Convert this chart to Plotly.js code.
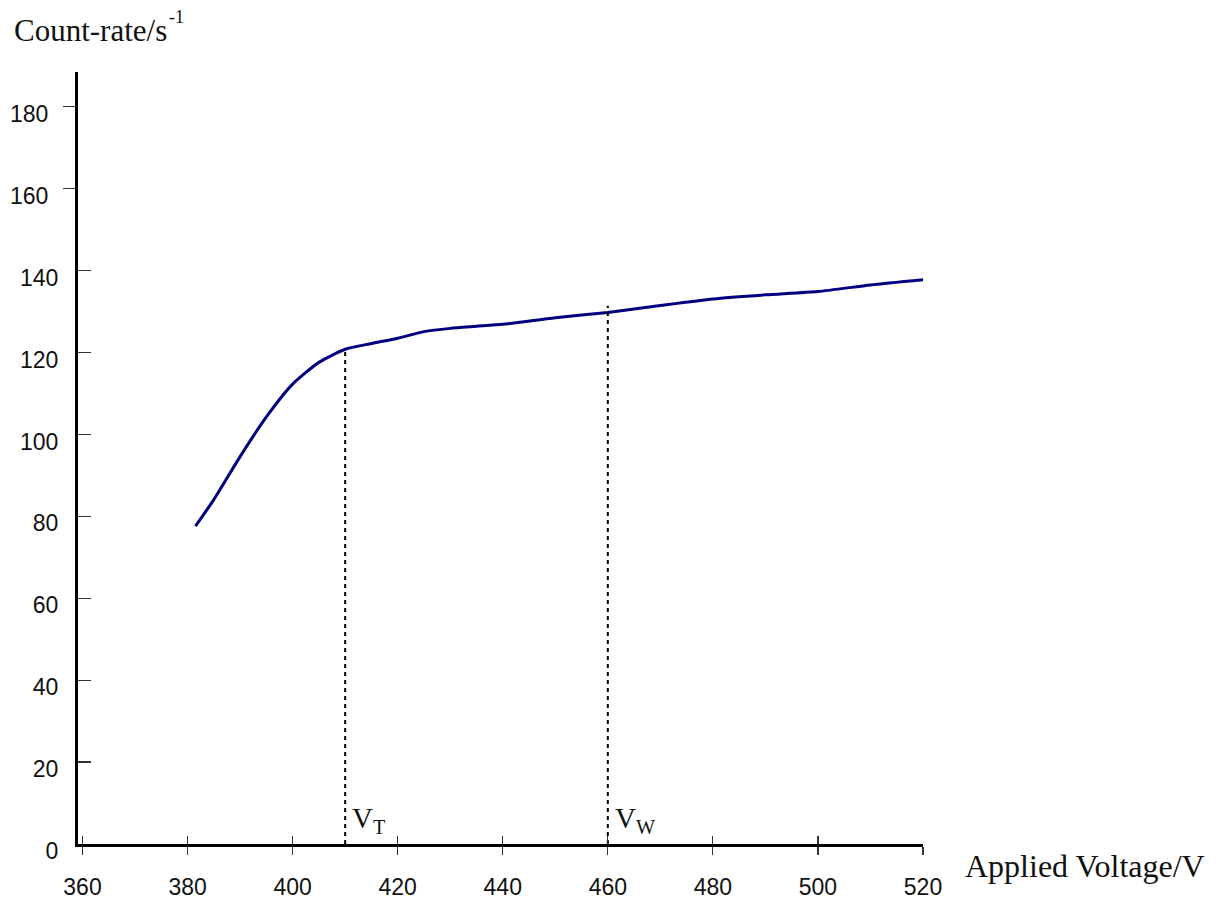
<!DOCTYPE html>
<html>
<head>
<meta charset="utf-8">
<script src="https://cdn.plot.ly/plotly-3.0.1.min.js"></script>
<style>html,body{margin:0;padding:0;background:#fff;}#chart{width:1216px;height:908px;}</style>
</head>
<body>
<div id="chart"></div>
<script>
// Data
const voltage   = [381.5, 385, 390, 395, 400, 405, 410, 415, 420, 425, 430, 435, 440, 450, 460, 470, 480, 490, 500, 510, 521];
const countRate = [77.6, 84.1, 94.6, 104.3, 112.3, 117.6, 120.8, 122.2, 123.5, 125.1, 125.9, 126.4, 126.9, 128.5, 129.8, 131.5, 133.1, 134.1, 134.9, 136.5, 137.9];

const markerVoltages = [410, 460];
const markerTops     = [120.8, 131.4];
const markerSubs     = ['T', 'W'];

const xTickVals      = [360, 380, 400, 420, 440, 460, 480, 500, 520];
const yTickValsLower = [0, 20, 40, 60, 80, 100, 120, 140];
const yTickValsUpper = [160, 180];

const xRange = [359.14, 520];
const yRange = [0, 188.5];

const traces = [{
  x: voltage, y: countRate, type: 'scatter', mode: 'lines',
  line: {color: '#000080', width: 3, shape: 'spline', smoothing: 0.6},
  hoverinfo: 'skip', showlegend: false
}];
markerVoltages.forEach((v, i) => {
  traces.push({
    x: [v, v], y: [0, markerTops[i]], type: 'scatter', mode: 'lines',
    line: {color: '#000', width: 2, dash: '4px,4px'},
    hoverinfo: 'skip', showlegend: false
  });
});

const tickFont = {family: 'Liberation Sans, Arial, sans-serif', size: 23, color: '#111'};
const serif = 'Liberation Serif, Times New Roman, serif';

const annotations = [
  {text: 'Count-rate/s', xref: 'paper', yref: 'paper', x: -0.0775, y: 1.0535, xanchor: 'left', yanchor: 'middle',
   showarrow: false, borderpad: 0, font: {family: serif, size: 31, color: '#111'}},
  {text: '-1', xref: 'paper', yref: 'paper', x: 0.1065, y: 1.0715, xanchor: 'left', yanchor: 'middle',
   showarrow: false, borderpad: 0, font: {family: serif, size: 18, color: '#111'}},
  {text: 'Applied Voltage/V', xref: 'paper', yref: 'paper', x: 1.0485, y: -0.029, xanchor: 'left', yanchor: 'middle',
   showarrow: false, borderpad: 0, font: {family: serif, size: 32, color: '#111'}}
];
markerVoltages.forEach((v, i) => {
  annotations.push({
    text: 'V<sub>' + markerSubs[i] + '</sub>', xref: 'x', yref: 'y', x: v, y: 5.8,
    xanchor: 'left', yanchor: 'middle', xshift: 6, showarrow: false, borderpad: 0,
    font: {family: serif, size: 29, color: '#111'}
  });
});

const layout = {
  width: 1216, height: 908,
  margin: {l: 77.5, r: 293, t: 72, b: 64},
  paper_bgcolor: '#fff', plot_bgcolor: '#fff',
  showlegend: false,
  xaxis: {
    range: xRange, tickvals: xTickVals, ticktext: xTickVals.map(String),
    ticks: 'outside', ticklen: 8, tickwidth: 1.2, tickcolor: '#333',
    showline: true, linecolor: '#000', linewidth: 3, mirror: false,
    showgrid: false, zeroline: false, tickfont: tickFont, ticklabelstandoff: 12
  },
  xaxis2: {
    range: xRange, overlaying: 'x', anchor: 'y', side: 'bottom', tickvals: xTickVals,
    ticks: 'inside', ticklen: 8, tickwidth: 1.2, tickcolor: '#333',
    showticklabels: false, showline: false, showgrid: false, zeroline: false
  },
  yaxis: {
    range: yRange, tickvals: yTickValsLower, ticktext: yTickValsLower.map(String),
    ticks: 'inside', ticklen: 13, tickwidth: 1.2, tickcolor: '#333',
    showline: true, linecolor: '#000', linewidth: 3,
    showgrid: false, zeroline: false, tickfont: tickFont,
    ticklabelstandoff: 12, ticklabelshift: 7
  },
  yaxis2: {
    range: yRange, overlaying: 'y', anchor: 'x', side: 'left', tickvals: yTickValsUpper,
    ticktext: yTickValsUpper.map(String),
    ticks: 'outside', ticklen: 14, tickwidth: 1.2, tickcolor: '#333',
    showline: false, showgrid: false, zeroline: false, tickfont: tickFont,
    ticklabelstandoff: 10, ticklabelshift: 7
  },
  annotations: annotations
};

// invisible trace to activate overlay axes
traces.push({x: [xRange[0]], y: [yRange[0]], xaxis: 'x2', yaxis: 'y2', type: 'scatter', mode: 'markers',
  marker: {opacity: 0}, hoverinfo: 'skip', showlegend: false});

Plotly.newPlot('chart', traces, layout, {staticPlot: true, displayModeBar: false});
</script>
</body>
</html>
